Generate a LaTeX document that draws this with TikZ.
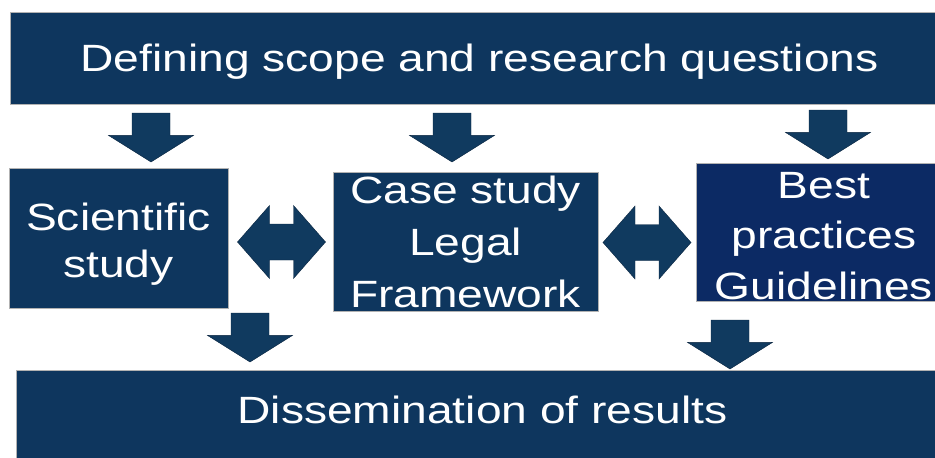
\documentclass[tikz,border=0pt]{standalone}
\usepackage{fontspec}
\setmainfont{Liberation Sans}[FakeStretch=1.215]
\usetikzlibrary{positioning}
\definecolor{StageNavy}{HTML}{0E365E}
\definecolor{StageDeep}{HTML}{0C2A64}
\definecolor{StageArrow}{HTML}{103A5F}
\definecolor{StageEdge}{HTML}{0A2540}
% invisible strut that lowers a block of lines inside its box
\newcommand{\lowerby}[1]{\rule{0pt}{#1}}

\begin{document}
\begin{tikzpicture}[x=1pt, y=-1pt,
  stagebox/.style={
    rectangle, fill=StageNavy, draw=black!30, line width=0.5pt,
    text=white, align=center, inner sep=0pt,
    font=\fontsize{38}{48}\selectfont
  },
  bestbox/.style={stagebox, fill=StageDeep},
  blockarrow/.style={fill=StageArrow, draw=StageEdge, line width=0.4pt,
    line join=miter}
]
\useasboundingbox (0,0) rectangle (935,458);
\clip (0,0) rectangle (935,458);

% ── Top stage ─────────────────────────────────────────────────
\node[stagebox, text depth=0pt, minimum width=939pt, minimum height=92pt]
  (scope) at (479.5,58) {Defining scope and research questions};

% ── Middle stages ─────────────────────────────────────────────
\node[stagebox, font=\fontsize{38}{46.3}\selectfont,
      minimum width=219pt, minimum height=140pt]
  (sci) at (118.5,238) {\lowerby{40pt}Scientific\\study};
\node[stagebox, font=\fontsize{38}{52}\selectfont,
      minimum width=265pt, minimum height=139pt]
  (case) at (465.5,241.5) {Case study\\Legal\\Framework};
\node[bestbox, font=\fontsize{38}{50.5}\selectfont,
      minimum width=256pt, minimum height=138pt]
  (best) at (824,232) {\lowerby{34pt}Best\\practices\\Guidelines};

% ── Bottom stage ──────────────────────────────────────────────
\node[stagebox, text depth=10pt, minimum width=933pt, minimum height=90pt]
  (dissem) at (482.5,415) {Dissemination of results};

% ── Block arrows pointing down (top centre of each shaft) ─────
\foreach \x/\y in {151/113, 452/113, 828/110, 250/313, 730/320}{
  \draw[blockarrow] (\x,\y) ++(-19,0) -- ++(38,0) -- ++(0,22.4)
    -- ++(23.5,0) -- ++(-42.5,26.6) -- ++(-42.5,-26.6) -- ++(23.5,0) -- cycle;
}

% ── Two-way links between the middle stages ───────────────────
\foreach \x/\y in {281.5/242, 647/242.5}{
  \draw[blockarrow] (\x,\y) ++(-44,0) -- ++(32,-36.5) -- ++(0,18.5)
    -- ++(24,0) -- ++(0,-18.5) -- ++(32,36.5) -- ++(-32,36.5)
    -- ++(0,-18.5) -- ++(-24,0) -- ++(0,18.5) -- cycle;
}

\end{tikzpicture}
\end{document}
